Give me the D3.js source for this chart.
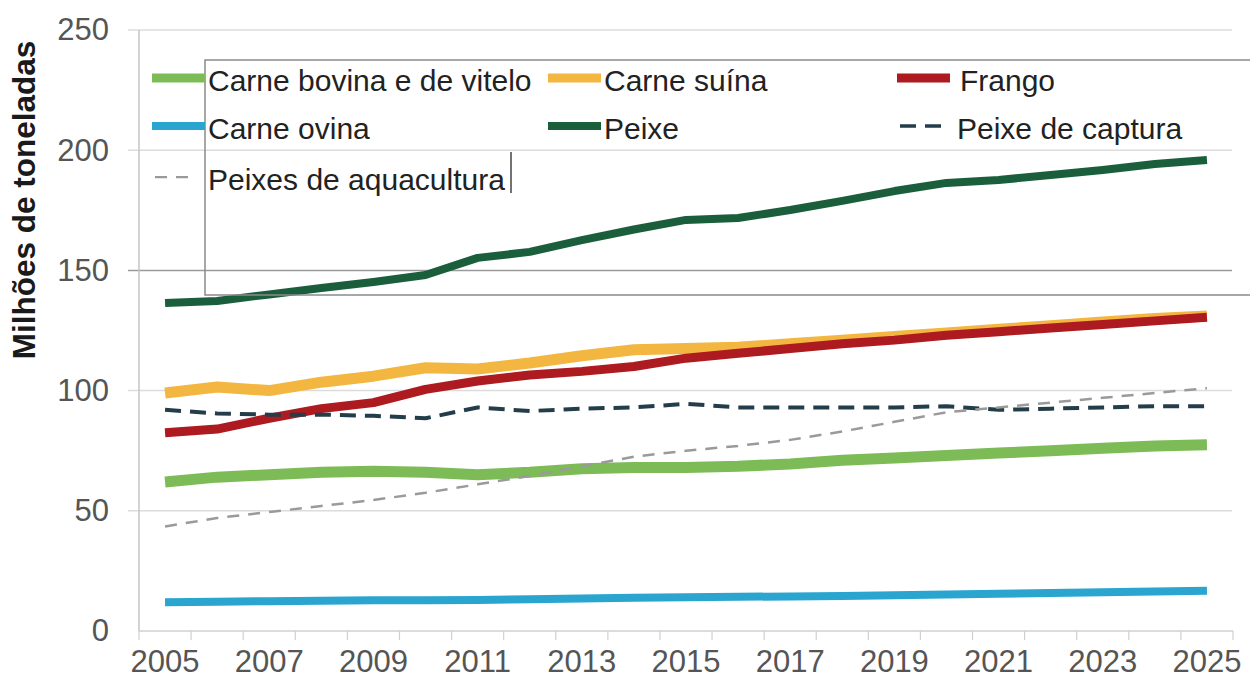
<!DOCTYPE html>
<html>
<head>
<meta charset="utf-8">
<script src="https://cdn.jsdelivr.net/npm/d3@7"></script>
<style>
  html, body { margin: 0; padding: 0; background: #fff; }
  svg { display: block; font-family: 'Liberation Sans', Arial, sans-serif; }
</style>
</head>
<body>
<svg id="chart"></svg>
<script>
// anos (eixo x) e rótulos dos ticks
const years = d3.range(2005, 2026);
const xTickLabels = [2005, 2007, 2009, 2011, 2013, 2015, 2017, 2019, 2021, 2023, 2025];
const yTicks = [0, 50, 100, 150, 200, 250];

// séries, milhões de toneladas
const bovina = [62, 64, 65, 66, 66.5, 66, 65, 66, 67.5, 68, 68, 68.5, 69.5, 71, 72, 73, 74, 75, 76, 77, 77.5];
const suina = [99, 101.5, 100, 103.5, 106, 109.5, 109, 111.5, 114.5, 117, 117.5, 118, 119.5, 121, 122.5, 124, 125.5, 127, 128.5, 130, 131];
const frango = [82.5, 84, 88.5, 92.5, 95, 100.5, 104, 106.5, 108, 110, 113.5, 115.5, 117.5, 119.5, 121, 123, 124.5, 126, 127.5, 129, 130.5];
const ovina = [12, 12.2, 12.4, 12.6, 12.8, 12.8, 12.9, 13.2, 13.5, 13.8, 14, 14.2, 14.4, 14.6, 14.9, 15.2, 15.5, 15.8, 16.1, 16.4, 16.7];
const peixe = [136.4, 137.3, 140, 142.7, 145.2, 148.1, 155.2, 157.7, 162.6, 167, 171, 171.8, 175.1, 178.9, 183, 186.4, 187.6, 189.7, 191.8, 194.3, 195.9];
const captura = [92, 90.5, 90, 90, 89.5, 88.5, 93, 91.5, 92.5, 93, 94.5, 93, 93, 93, 93, 93.5, 92, 92.5, 93, 93.5, 93.5];
const aquacultura = [43.5, 47, 49.5, 52, 54.5, 57.5, 61, 64.5, 68.5, 72.5, 75, 77, 79.5, 83, 87, 91, 93, 95, 97, 99, 101];

const seriesNames = ['Carne bovina e de vitelo', 'Carne suína', 'Frango', 'Carne ovina', 'Peixe', 'Peixe de captura', 'Peixes de aquacultura'];
const seriesValues = [bovina, suina, frango, ovina, peixe, captura, aquacultura];
const yTitle = 'Milhões de toneladas';

const config = {
  width: 1250,
  height: 678,
  marginTop: 30, // y(250)
  marginRight: 17,
  marginBottom: 47, // y(0) = 631
  marginLeft: 139,
  tickFont: 31,
  legendFont: 30,
  tickColor: '#555',
  textColor: '#222',
};

// estilo de cada série, na mesma ordem de seriesNames
const styles = [
  { color: '#7dbb57', width: 11, dash: null },
  { color: '#f3b640', width: 11, dash: null },
  { color: '#ad1a1f', width: 9, dash: null },
  { color: '#2aa5cf', width: 8, dash: null },
  { color: '#1b5e3b', width: 8, dash: null },
  { color: '#243d4a', width: 4, dash: '16,9' },
  { color: '#9a9a9a', width: 2.5, dash: '12,9' },
];
const drawOrder = [0, 1, 2, 3, 4, 5, 6];

const { width, height, marginTop, marginRight, marginBottom, marginLeft } = config;
const svg = d3.select('#chart').attr('width', width).attr('height', height).attr('viewBox', [0, 0, width, height]);

const x = d3.scaleBand(years, [marginLeft, width - marginRight]);
const xc = (yr) => x(yr) + x.bandwidth() / 2;
const y = d3.scaleLinear([0, 250], [height - marginBottom, marginTop]);

/**
 * grade + eixo y
 */
svg
  .append('g')
  .selectAll('line')
  .data(yTicks.filter((v) => v > 0))
  .join('line')
  .attr('x1', marginLeft - 11)
  .attr('x2', width - marginRight - 1)
  .attr('y1', (d) => y(d))
  .attr('y2', (d) => y(d))
  .attr('stroke', (d) => (d === 150 ? '#9a9a9a' : '#dcdcdc'))
  .attr('stroke-width', 1.5);

svg
  .append('line')
  .attr('x1', marginLeft)
  .attr('x2', marginLeft)
  .attr('y1', marginTop)
  .attr('y2', height - marginBottom)
  .attr('stroke', '#c4c4c4')
  .attr('stroke-width', 1.5);

const yAxis = d3.axisLeft(y).tickValues(yTicks).tickSize(0).tickPadding(30);
svg
  .append('g')
  .attr('transform', `translate(${marginLeft},0)`)
  .call(yAxis)
  .call((g) => g.select('.domain').remove())
  .call((g) =>
    g
      .selectAll('.tick text')
      .attr('fill', config.tickColor)
      .style('font-size', config.tickFont + 'px')
      .style('font-family', 'Liberation Sans, Arial, sans-serif'),
  );

svg
  .append('text')
  .attr('transform', `translate(35,200) rotate(-90)`)
  .attr('text-anchor', 'middle')
  .attr('font-weight', 'bold')
  .attr('fill', '#1a1a1a')
  .style('font-size', '31.5px')
  .text(yTitle);

/**
 * eixo x
 */
svg
  .append('line')
  .attr('x1', marginLeft)
  .attr('x2', width - marginRight)
  .attr('y1', y(0))
  .attr('y2', y(0))
  .attr('stroke', '#d0d0d0')
  .attr('stroke-width', 1.5);

svg
  .append('g')
  .selectAll('line')
  .data(years.concat([null]))
  .join('line')
  .attr('x1', (d) => (d === null ? width - marginRight : x(d)))
  .attr('x2', (d) => (d === null ? width - marginRight : x(d)))
  .attr('y1', y(0))
  .attr('y2', y(0) + 9)
  .attr('stroke', '#d0d0d0')
  .attr('stroke-width', 1.2);

const xAxis = d3.axisBottom(x).tickValues(xTickLabels).tickSize(0).tickPadding(19);
svg
  .append('g')
  .attr('transform', `translate(0,${y(0)})`)
  .call(xAxis)
  .call((g) => g.select('.domain').remove())
  .call((g) =>
    g
      .selectAll('.tick text')
      .attr('fill', config.tickColor)
      .style('font-size', config.tickFont + 'px')
      .style('font-family', 'Liberation Sans, Arial, sans-serif'),
  );

/**
 * linhas
 */
const line = d3
  .line()
  .x((_, i) => xc(years[i]))
  .y((v) => y(v));

svg
  .append('g')
  .attr('fill', 'none')
  .selectAll('path')
  .data(drawOrder)
  .join('path')
  .attr('stroke', (k) => styles[k].color)
  .attr('stroke-width', (k) => styles[k].width)
  .attr('stroke-dasharray', (k) => styles[k].dash)
  .attr('stroke-linejoin', 'round')
  .attr('d', (k) => line(seriesValues[k]));

/**
 * legenda
 */
const legendBox = { x: 205, y: 60, h: 235 };
const legendCols = [
  { sx: 152, tx: 208 },
  { sx: 548, tx: 604 },
  { sx: 897, tx: 960 },
];
const legendRows = [78, 126, 177];
const swatchW = 53;

const legend = svg.append('g');
legend
  .append('path')
  .attr('d', `M${width + 5},${legendBox.y}H${legendBox.x}V${legendBox.y + legendBox.h}H${width + 5}`)
  .attr('fill', 'none')
  .attr('stroke', '#8a8a8a')
  .attr('stroke-width', 1.5);

const items = legend
  .selectAll('g.item')
  .data(seriesNames)
  .join('g')
  .attr('class', 'item')
  .attr('transform', (_, i) => `translate(0,${legendRows[Math.floor(i / 3)]})`);

items
  .append('line')
  .attr('x1', (_, i) => legendCols[i % 3].sx + (styles[i].dash ? 3 : 0))
  .attr('x2', (_, i) => legendCols[i % 3].sx + (styles[i].dash ? (i === 5 ? 44 : 40) : swatchW))
  .attr('stroke', (_, i) => styles[i].color)
  .attr('stroke-width', (_, i) => (styles[i].dash ? styles[i].width * 0.9 : Math.min(styles[i].width, 9)))
  .attr('stroke-dasharray', (_, i) => styles[i].dash);

items
  .append('text')
  .attr('x', (_, i) => legendCols[i % 3].tx - (i === 5 ? 3 : 0))
  .attr('y', 12.5)
  .attr('fill', config.textColor)
  .style('font-size', config.legendFont + 'px')
  .text((d) => d);

// cursor de texto que ficou na imagem original
legend
  .append('line')
  .attr('x1', 511)
  .attr('x2', 511)
  .attr('y1', 152)
  .attr('y2', 193)
  .attr('stroke', '#444')
  .attr('stroke-width', 1.5);
</script>
</body>
</html>
